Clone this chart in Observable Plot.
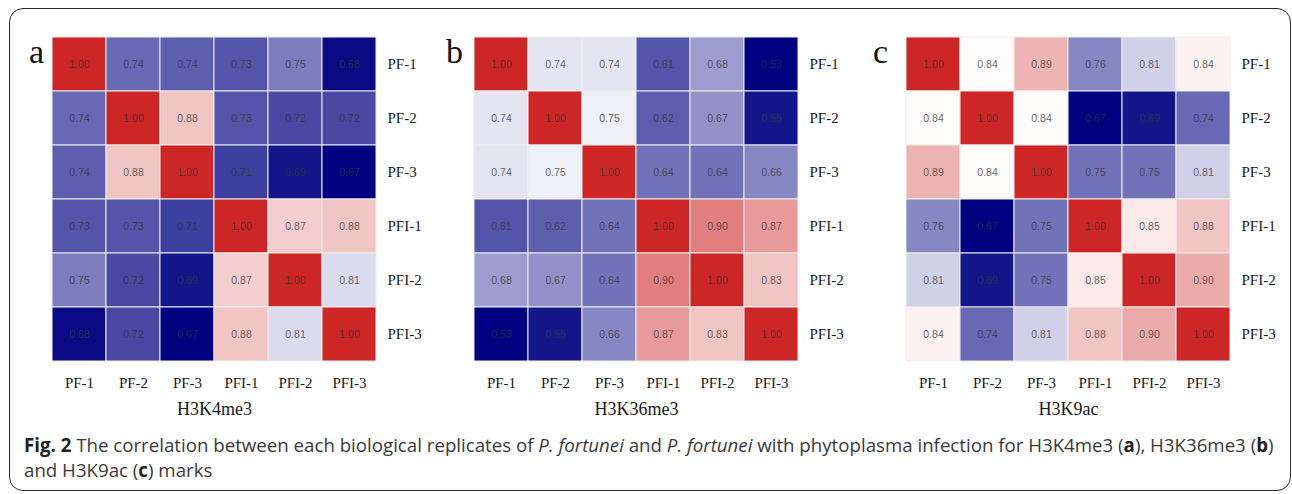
<!DOCTYPE html>
<html>
<head>
<meta charset="utf-8">
<script src="https://cdn.jsdelivr.net/npm/d3@7"></script>
<script src="https://cdn.jsdelivr.net/npm/@observablehq/plot@0.6"></script>
<style>
  body { margin: 0; background: #fff; }
  #wrap { position: relative; width: 1292px; height: 494px; overflow: hidden; background: #fff; }
  #frame { position: absolute; left: 9px; top: 8px; width: 1282px; height: 483px; border: 1.5px solid #2a2a2a; border-radius: 14px; box-sizing: border-box; }
  .panel { position: absolute; top: 0; }
</style>
</head>
<body>
<div id="wrap"><div id="frame"></div></div>
<script>
// ---- data ----
const labels = ["PF-1", "PF-2", "PF-3", "PFI-1", "PFI-2", "PFI-3"];

const h3k4me3 = [
  [1.00, 0.74, 0.7358, 0.727, 0.75, 0.68],
  [0.74, 1.00, 0.88, 0.727, 0.72, 0.72],
  [0.7358, 0.88, 1.00, 0.71, 0.688, 0.67],
  [0.727, 0.727, 0.71, 1.00, 0.87, 0.88],
  [0.75, 0.72, 0.688, 0.87, 1.00, 0.81],
  [0.68, 0.72, 0.67, 0.88, 0.81, 1.00]
];

const h3k36me3 = [
  [1.00, 0.737, 0.737, 0.61, 0.68, 0.53],
  [0.737, 1.00, 0.75, 0.62, 0.67, 0.55],
  [0.737, 0.75, 1.00, 0.64, 0.64, 0.66],
  [0.61, 0.62, 0.64, 1.00, 0.90, 0.87],
  [0.68, 0.67, 0.64, 0.90, 1.00, 0.83],
  [0.53, 0.55, 0.66, 0.87, 0.83, 1.00]
];

const h3k9ac = [
  [1.00, 0.84, 0.89, 0.76, 0.807, 0.843],
  [0.84, 1.00, 0.84, 0.67, 0.687, 0.74],
  [0.89, 0.84, 1.00, 0.746, 0.746, 0.807],
  [0.76, 0.67, 0.746, 1.00, 0.85, 0.88],
  [0.807, 0.687, 0.746, 0.85, 1.00, 0.90],
  [0.843, 0.74, 0.807, 0.88, 0.90, 1.00]
];

const panelTitles = ["H3K4me3", "H3K36me3", "H3K9ac"];
const panelLetters = ["a", "b", "c"];
const matrices = [h3k4me3, h3k36me3, h3k9ac];

// ---- layout (positions / styles) ----
const layout = [
  { left: 0, letterDx: -16 },
  { left: 422, letterDx: -20 },
  { left: 854, letterDx: -26 }
];

const wrap = document.getElementById("wrap");
const ramp = d3.piecewise(d3.interpolateRgb, ["#000080", "#ffffff", "#cd2626"]);
const nColors = 50;
const colors = d3.range(nColors).map(i => ramp(i / (nColors - 1)));

matrices.forEach((m, p) => {
  const cells = [];
  m.forEach((row, i) => row.forEach((v, j) => cells.push({ row: labels[i], col: labels[j], value: v })));
  const lo = d3.min(cells, d => d.value), hi = d3.max(cells, d => d.value);
  const thresholds = d3.range(1, nColors).map(k => lo + (hi - lo) * k / nColors);
  const svg = Plot.plot({
    width: 430, height: 430,
    marginTop: 37, marginLeft: 52, marginRight: 54, marginBottom: 69,
    style: { fontFamily: "'Liberation Serif', 'Times New Roman', serif", fontSize: "15px", color: "#1a1a1a", background: "transparent", overflow: "visible" },
    x: { domain: labels, padding: 0, axis: "bottom", tickSize: 0, tickPadding: 16, label: null },
    y: { domain: labels, padding: 0, axis: "right", tickSize: 0, tickPadding: 11, label: null },
    color: { type: "threshold", domain: thresholds, range: colors },
    marks: [
      Plot.cell(cells, { x: "col", y: "row", fill: "value", stroke: "#eeeeee", strokeWidth: 1, inset: 0 }),
      Plot.text(cells, { x: "col", y: "row", text: d => d.value.toFixed(2), fill: "#333", fillOpacity: 0.75, fontFamily: "'Liberation Sans', Arial, sans-serif", fontSize: 10.5 }),
      Plot.text([panelTitles[p]], { frameAnchor: "bottom", dy: 53, text: d => d, fontSize: 18, fill: "#1a1a1a", textAnchor: "middle" }),
      Plot.text([panelLetters[p]], { frameAnchor: "top-left", dx: layout[p].letterDx, dy: 1.5, text: d => d, fontSize: 34, fill: "#111", textAnchor: "middle" })
    ]
  });
  svg.classList.add("panel");
  svg.style.left = layout[p].left + "px";
  svg.style.top = "0px";
  svg.style.position = "absolute";
  wrap.appendChild(svg);
});

// ---- caption ----
const cap = document.createElementNS("http://www.w3.org/2000/svg", "svg");
cap.setAttribute("width", 1292);
cap.setAttribute("height", 494);
cap.style.position = "absolute";
cap.style.left = "0px";
cap.style.top = "0px";
cap.innerHTML = `
<g font-family="'Open Sans', 'Noto Sans', sans-serif" font-size="19" fill="#3a3a3a">
<text id="cap1"><tspan font-weight="bold" fill="#222">Fig. 2</tspan> The correlation between each biological replicates of <tspan font-style="italic">P. fortunei</tspan> and <tspan font-style="italic">P. fortunei</tspan> with phytoplasma infection for H3K4me3 (<tspan font-weight="bold" fill="#222">a</tspan>), H3K36me3 (<tspan font-weight="bold" fill="#222">b</tspan>)</text>
<text id="cap2">and H3K9ac (<tspan font-weight="bold" fill="#222">c</tspan>) marks</text>
</g>`;
wrap.appendChild(cap);
const c1 = cap.querySelector("#cap1"), c2 = cap.querySelector("#cap2");
const sx = 1251 / c1.getComputedTextLength();
c1.setAttribute("transform", `translate(24,452) scale(${sx},1)`);
c2.setAttribute("transform", `translate(24,477) scale(${sx},1)`);
</script>
</body>
</html>
